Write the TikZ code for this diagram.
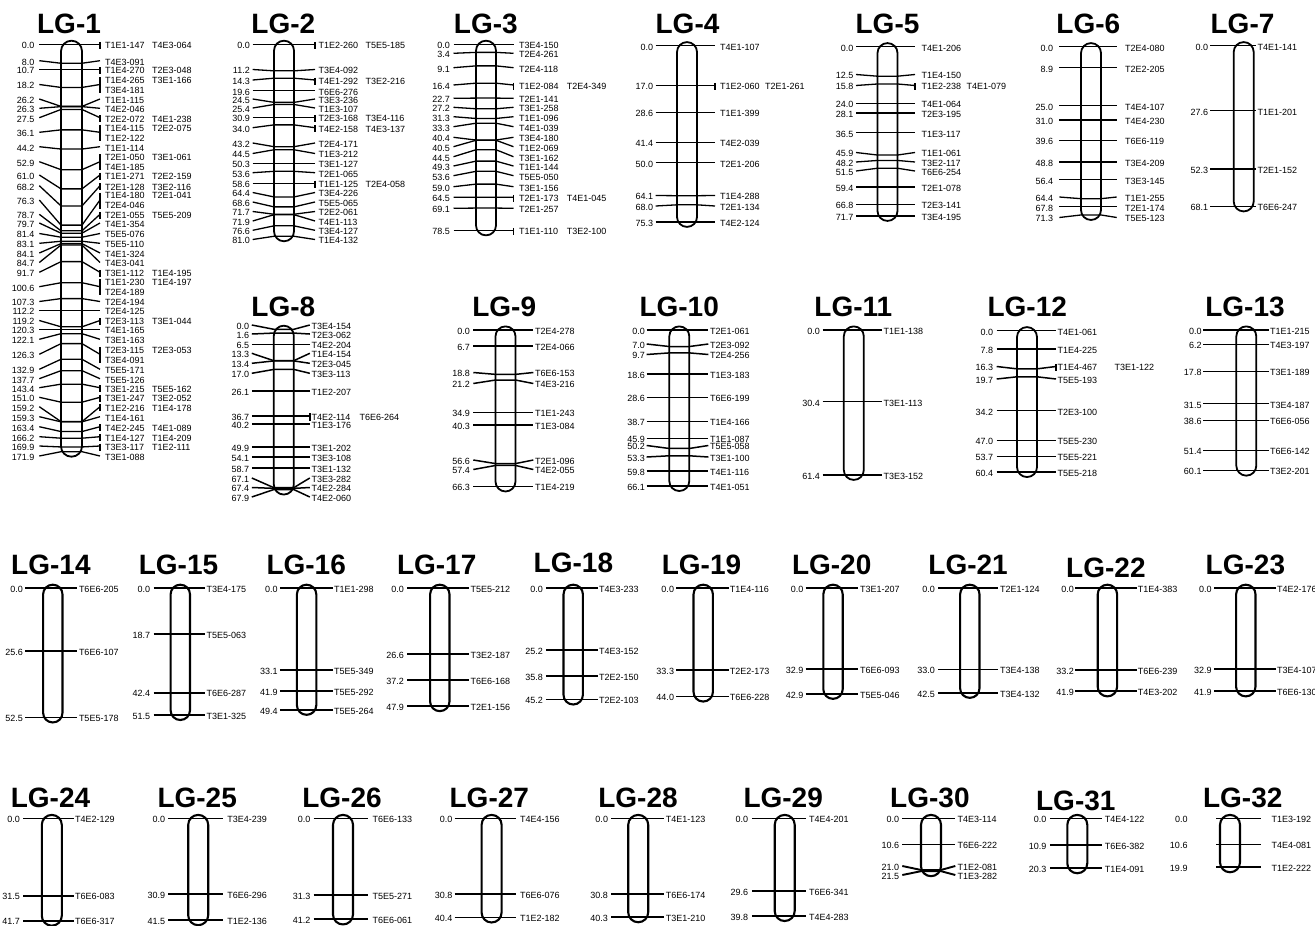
\documentclass[tikz,border=0pt]{standalone}
\usepackage{fontspec}
\setmainfont{Liberation Sans}
\usetikzlibrary{calc}

\newcount\mkno
\def\lgw{10}
% label offsets from the chromosome axis: number, left line, right line, text, 2nd column
\newcommand{\lglab}[5]{\def\lgn{#1}\def\lgl{#2}\def\lgr{#3}\def\lgt{#4}\def\lgc{#5}}
% id, title x, title y, axis x, y of 0 cM, px per cM, last cM
\newcommand{\lgchrom}[7]{%
  \def\lgx{#4}\def\lgy{#5}\def\lgs{#6}%
  \pgfmathsetmacro\lgrc{\lgw-0.05}%
  \node[lgtitle] (lg#1) at (#2,#3) {LG-#1};%
  \draw[chrom, rounded corners=\lgrc pt] (#4-\lgw,#5-3.6) rectangle (#4+\lgw,#5+#7*#6+5);%
}
% one locus: connector and position label
\newcommand{\mkpre}[2]{%
  \global\advance\mkno by 1
  \pgfmathsetmacro\mky{\lgy+#2*\lgs}%
  \def\tmp{#1}%
  \ifx\tmp\empty\let\mly\mky\else\def\mly{#1}\fi
  \coordinate (a\the\mkno) at (\lgx+\lgl,\mly);
  \coordinate (b\the\mkno) at (\lgx-\lgw,\mky);
  \coordinate (c\the\mkno) at (\lgx+\lgw,\mky);
  \coordinate (d\the\mkno) at (\lgx+\lgr,\mly);
  \draw[mline] (a\the\mkno) -- (b\the\mkno) -- (c\the\mkno) -- (d\the\mkno);
  \node[cmlab] (n\the\mkno) at (\lgx+\lgn,\mly+4.3) {#2};
}
% single marker
\newcommand{\mk}[3][]{\mkpre{#1}{#2}%
  \node[mklab] (m\the\mkno) at (\lgx+\lgt,\mly+4.3) {#3};}
% two markers, one row
\newcommand{\mkb}[4][]{\mkpre{#1}{#2}%
  \coordinate (e\the\mkno) at (\lgx+\lgr,\mly-2.5);
  \coordinate (f\the\mkno) at (\lgx+\lgr,\mly+4.6);
  \draw[mline] (e\the\mkno) -- (f\the\mkno);
  \node[mklab] (m\the\mkno) at (\lgx+\lgt,\mly+4.3) {#3};
  \node[mklab] (p\the\mkno) at (\lgx+\lgt+\lgc,\mly+4.3) {#4};}
% three markers, two rows
\newcommand{\mkc}[5][]{\mkpre{#1}{#2}%
  \coordinate (e\the\mkno) at (\lgx+\lgr,\mly-7.5);
  \coordinate (f\the\mkno) at (\lgx+\lgr,\mly+8.5);
  \draw[mline] (e\the\mkno) -- (f\the\mkno);
  \node[mklab] (m\the\mkno) at (\lgx+\lgt,\mly-1.2) {#3};
  \node[mklab] (p\the\mkno) at (\lgx+\lgt+\lgc,\mly-1.2) {#4};
  \node[mklab] (q\the\mkno) at (\lgx+\lgt,\mly+8.8) {#5};}

\begin{document}
\begin{tikzpicture}[x=1pt, y=-1pt,
    lgtitle/.style={font=\fontsize{28}{30}\selectfont\bfseries, inner sep=0pt},
    cmlab/.style={anchor=base east, inner sep=0pt, font=\fontsize{9}{10}\selectfont},
    mklab/.style={anchor=base west, inner sep=0pt, font=\fontsize{9}{10}\selectfont},
    mline/.style={line width=1.3pt},
    chrom/.style={line width=1.8pt, fill=white}
]
\fill[white] (0,0) rectangle (1315,926);
\useasboundingbox (0,0) rectangle (1315,926);

% ---- row 1
\def\lgw{10.5}
\lglab{-36.8}{-32.2}{28.5}{33.5}{47}
\lgchrom{1}{69}{24}{71.5}{44.3}{2.37}{171.9}
\mkb{0.0}{T1E1-147}{T4E3-064}
\mk[60.7]{8.0}{T4E3-091}
\mkb{10.7}{T1E4-270}{T2E3-048}
\mkc[84.5]{18.2}{T1E4-265}{T3E1-166}{T3E4-181}
\mk[99]{26.2}{T1E1-115}
\mk[108.3]{26.3}{T4E2-046}
\mkb[117.7]{27.5}{T2E2-072}{T4E1-238}
\mkc[132.3]{36.1}{T1E4-115}{T2E2-075}{T1E2-122}
\mk[146.7]{44.2}{T1E1-114}
\mkc[161.7]{52.9}{T2E1-050}{T3E1-061}{T4E1-185}
\mkb[175]{61.0}{T1E1-271}{T2E2-159}
\mkb[185.7]{68.2}{T2E1-128}{T3E2-116}
\mkc[200]{76.3}{T1E4-180}{T2E1-041}{T2E4-046}
\mkb[214.3]{78.7}{T2E1-055}{T5E5-209}
\mk[223]{79.7}{T4E1-354}
\mk[233.5]{81.4}{T5E5-076}
\mk[243.3]{83.1}{T5E5-110}
\mk[253]{84.1}{T4E1-324}
\mk[262.5]{84.7}{T4E3-041}
\mkb[272.3]{91.7}{T3E1-112}{T1E4-195}
\mkc[286.7]{100.6}{T1E1-230}{T1E4-197}{T2E4-189}
\mk[301.5]{107.3}{T2E4-194}
\mk{112.2}{T2E4-125}
\mkb[320.5]{119.2}{T2E3-113}{T3E1-044}
\mk{120.3}{T4E1-165}
\mk[339.3]{122.1}{T3E1-163}
\mkc[354.3]{126.3}{T2E3-115}{T2E3-053}{T3E4-091}
\mk[369.3]{132.9}{T5E5-171}
\mk[378.7]{137.7}{T5E5-126}
\mkb[387.7]{143.4}{T3E1-215}{T5E5-162}
\mkb[397.3]{151.0}{T3E1-247}{T3E2-052}
\mkb[406.7]{159.2}{T1E2-216}{T1E4-178}
\mk[416.7]{159.3}{T1E4-161}
\mkb[426.7]{163.4}{T4E2-245}{T4E1-089}
\mkb[436.7]{166.2}{T1E4-127}{T1E4-209}
\mkb[446]{169.9}{T3E3-117}{T1E2-111}
\mk[456]{171.9}{T3E1-088}

\def\lgw{10}
\lglab{-34}{-31.3}{31}{34.3}{47}
\lgchrom{2}{283.3}{24}{284}{44.3}{2.37}{81.0}
\mkb{0.0}{T1E2-260}{T5E5-185}
\mk[69.5]{11.2}{T3E4-092}
\mkb[80]{14.3}{T4E1-292}{T3E2-216}
\mk{19.6}{T6E6-276}
\mk[99]{24.5}{T3E3-236}
\mk[108]{25.4}{T1E3-107}
\mkb{30.9}{T2E3-168}{T3E4-116}
\mkb[127.7]{34.0}{T4E2-158}{T4E3-137}
\mk[143]{43.2}{T2E4-171}
\mk[153.5]{44.5}{T1E3-212}
\mk{50.3}{T3E1-127}
\mk[172.7]{53.6}{T2E1-065}
\mkb{58.6}{T1E1-125}{T2E4-058}
\mk[192.5]{64.4}{T3E4-226}
\mk[202]{68.6}{T5E5-065}
\mk[211.5]{71.7}{T2E2-061}
\mk[221]{71.9}{T4E1-113}
\mk[230.3]{76.6}{T3E4-127}
\mk[239.5]{81.0}{T1E4-132}

\lglab{-36}{-32.5}{27.5}{33}{47.7}
\lgchrom{3}{485.8}{24}{486}{44.3}{2.37}{78.5}
\mk{0.0}{T3E4-150}
\mk[53.3]{3.4}{T2E4-261}
\mk[67.7]{9.1}{T2E4-118}
\mkb[85]{16.4}{T1E2-084}{T2E4-349}
\mk[98.3]{22.7}{T2E1-141}
\mk[107.3]{27.2}{T3E1-258}
\mk[116.7]{31.3}{T1E1-096}
\mk[126.7]{33.3}{T4E1-039}
\mk[137.3]{40.4}{T3E4-180}
\mk[146.7]{40.5}{T1E2-069}
\mk[156.7]{44.5}{T3E1-162}
\mk[166]{49.3}{T1E1-144}
\mk[175.7]{53.6}{T5E5-050}
\mk[186.7]{59.0}{T3E1-156}
\mkb[197.3]{64.5}{T2E1-173}{T4E1-045}
\mk[208.3]{69.1}{T2E1-257}
\mkb{78.5}{T1E1-110}{T3E2-100}

\lglab{-33.7}{-31.3}{28}{33}{45}
\lgchrom{4}{687.5}{24}{687}{45.7}{2.34}{75.3}
\mk{0.0}{T4E1-107}
\mkb{17.0}{T1E2-060}{T2E1-261}
\mk{28.6}{T1E1-399}
\mk{41.4}{T4E2-039}
\mk{50.0}{T2E1-206}
\mk[195.5]{64.1}{T1E4-288}
\mk[206]{68.0}{T2E1-134}
\mk{75.3}{T4E2-124}

\lglab{-34}{-31.5}{27.5}{34}{45}
\lgchrom{5}{887.5}{24}{887.5}{46.7}{2.36}{71.7}
\mk{0.0}{T4E1-206}
\mk[74.5]{12.5}{T1E4-150}
\mkb[85.5]{15.8}{T1E2-238}{T4E1-079}
\mk{24.0}{T4E1-064}
\mk{28.1}{T2E3-195}
\mk{36.5}{T1E3-117}
\mk[152.5]{45.9}{T1E1-061}
\mk[162]{48.2}{T3E2-117}
\mk[171]{51.5}{T6E6-254}
\mk{59.4}{T2E1-078}
\mk{66.8}{T2E3-141}
\mk{71.7}{T3E4-195}

\lglab{-37.7}{-31.7}{25.7}{34}{45}
\lgchrom{6}{1088.3}{24}{1091}{46.7}{2.36}{71.3}
\mk{0.0}{T2E4-080}
\mk{8.9}{T2E2-205}
\mk{25.0}{T4E4-107}
\mk{31.0}{T4E4-230}
\mk{39.6}{T6E6-119}
\mk{48.8}{T3E4-209}
\mk{56.4}{T3E3-145}
\mk[197]{64.4}{T1E1-255}
\mk{67.8}{T2E1-174}
\mk[217.5]{71.3}{T5E5-123}

\lglab{-35.3}{-33.7}{12.7}{13.7}{45}
\lgchrom{7}{1242.5}{24}{1243.7}{45.7}{2.36}{68.1}
\mk{0.0}{T4E1-141}
\mk{27.6}{T1E1-201}
\mk{52.3}{T2E1-152}
\mk{68.1}{T6E6-247}

% ---- row 2
\begin{scope}[mline/.style={line width=1.5pt}]
\lglab{-34.5}{-32}{26}{27.5}{48}
\lgchrom{8}{283.3}{306.7}{283.8}{329.3}{2.36}{67.9}
\mk[325]{0.0}{T3E4-154}
\mk[334]{1.6}{T2E3-062}
\mk{6.5}{T4E2-204}
\mk[353.3]{13.3}{T1E4-154}
\mk[363.3]{13.4}{T2E3-045}
\mk[373.3]{17.0}{T3E3-113}
\mk{26.1}{T1E2-207}
\mkb{36.7}{T4E2-114}{T6E6-264}
\mk{40.2}{T1E3-176}
\mk{49.9}{T3E1-202}
\mk{54.1}{T3E3-108}
\mk{58.7}{T3E1-132}
\mk[478]{67.1}{T3E3-282}
\mk[487.5]{67.4}{T4E2-284}
\mk[497]{67.9}{T4E2-060}

\lglab{-35.5}{-32.2}{27.8}{29.5}{47}
\lgchrom{9}{504.2}{306.7}{505.5}{330}{2.36}{66.3}
\mk{0.0}{T2E4-278}
\mk{6.7}{T2E4-066}
\mk[372.5]{18.8}{T6E6-153}
\mk[383.5]{21.2}{T4E3-216}
\mk{34.9}{T1E1-243}
\mk{40.3}{T1E3-084}
\mk[460]{56.6}{T2E1-096}
\mk[469.5]{57.4}{T4E2-055}
\mk{66.3}{T1E4-219}

\lglab{-34.3}{-32.6}{29}{30.7}{47}
\lgchrom{10}{679.2}{306.7}{679.3}{330}{2.36}{66.1}
\mk{0.0}{T2E1-061}
\mk[344]{7.0}{T2E3-092}
\mk[354.5]{9.7}{T2E4-256}
\mk{18.6}{T1E3-183}
\mk{28.6}{T6E6-199}
\mk{38.7}{T1E4-166}
\mk{45.9}{T1E1-087}
\mk[445.5]{50.2}{T5E5-058}
\mk[457]{53.3}{T3E1-100}
\mk{59.8}{T4E1-116}
\mk{66.1}{T4E1-051}

\lglab{-33.8}{-31.1}{27.9}{29.5}{47}
\lgchrom{11}{853.3}{306.7}{853.8}{330}{2.36}{61.4}
\mk{0.0}{T1E1-138}
\mk{30.4}{T3E1-113}
\mk{61.4}{T3E3-152}

\lglab{-33.7}{-30.3}{29}{30.3}{57}
\lgchrom{12}{1027.2}{306.7}{1027}{330.7}{2.34}{60.4}
\mk{0.0}{T4E1-061}
\mk{7.8}{T1E4-225}
\mkb[366.5]{16.3}{T1E4-467}{T3E1-122}
\mk[379]{19.7}{T5E5-193}
\mk{34.2}{T2E3-100}
\mk{47.0}{T5E5-230}
\mk{53.7}{T5E5-221}
\mk{60.4}{T5E5-218}

\lglab{-44.6}{-43}{23}{23.7}{47}
\lgchrom{13}{1245}{306.7}{1246.3}{330}{2.34}{60.1}
\mk{0.0}{T1E1-215}
\mk{6.2}{T4E3-197}
\mk{17.8}{T3E1-189}
\mk{31.5}{T3E4-187}
\mk{38.6}{T6E6-056}
\mk{51.4}{T6E6-142}
\mk{60.1}{T3E2-201}
\end{scope}

% ---- rows 3 and 4
\begin{scope}[mline/.style={line width=1.9pt}, chrom/.append style={line width=2.1pt}]
\def\lgw{9.7}
\lglab{-29.7}{-27.5}{24.2}{26}{47}
\lgchrom{14}{50.9}{565}{52.8}{588.3}{2.46}{52.5}
\mk{0.0}{T6E6-205}
\mk{25.6}{T6E6-107}
\mk{52.5}{T5E5-178}

\lglab{-30}{-26.7}{25}{26}{47}
\lgchrom{15}{178.5}{565}{180.3}{588.3}{2.46}{51.5}
\mk{0.0}{T3E4-175}
\mk{18.7}{T5E5-063}
\mk{42.4}{T6E6-287}
\mk{51.5}{T3E1-325}

\lglab{-28.8}{-26.7}{25.9}{27.2}{47}
\lgchrom{16}{306.2}{565}{306.6}{588.3}{2.46}{49.4}
\mk{0.0}{T1E1-298}
\mk{33.1}{T5E5-349}
\mk{41.9}{T5E5-292}
\mk{49.4}{T5E5-264}

\lglab{-35.8}{-32.4}{29.5}{30.7}{47}
\lgchrom{17}{436.7}{565}{439.8}{588.3}{2.46}{47.9}
\mk{0.0}{T5E5-212}
\mk{26.6}{T3E2-187}
\mk{37.2}{T6E6-168}
\mk{47.9}{T2E1-156}

\lglab{-30.2}{-27.3}{24.4}{25.7}{47}
\lgchrom{18}{573.4}{563.3}{573.2}{588.3}{2.46}{45.2}
\mk{0.0}{T4E3-233}
\mk{25.2}{T4E3-152}
\mk{35.8}{T2E2-150}
\mk{45.2}{T2E2-103}

\lglab{-29}{-26.9}{25.3}{26.5}{47}
\lgchrom{19}{701.5}{565}{703.2}{588.3}{2.46}{44.0}
\mk{0.0}{T1E4-116}
\mk{33.3}{T2E2-173}
\mk{44.0}{T6E6-228}

\lglab{-29.5}{-27.4}{24.8}{27}{47}
\lgchrom{20}{831.7}{565}{833}{588.3}{2.46}{42.9}
\mk{0.0}{T3E1-207}
\mk{32.9}{T6E6-093}
\mk{42.9}{T5E5-046}

\lglab{-34.8}{-31.4}{28}{30.1}{47}
\lgchrom{21}{968.1}{565}{969.8}{588.3}{2.46}{42.5}
\mk{0.0}{T2E1-124}
\mk{33.0}{T3E4-138}
\mk{42.5}{T3E4-132}

\lglab{-33.4}{-32}{29.5}{30.3}{47}
\lgchrom{22}{1105.9}{568.3}{1107.4}{588.3}{2.46}{41.9}
\mk{0.0}{T1E4-383}
\mk{33.2}{T6E6-239}
\mk{41.9}{T4E3-202}

\lglab{-33.9}{-31.8}{29.7}{31}{47}
\lgchrom{23}{1245.4}{565}{1245.8}{588.3}{2.46}{41.9}
\mk{0.0}{T4E2-176}
\mk{32.9}{T3E4-107}
\mk{41.9}{T6E6-130}

\def\lgw{10}
\lglab{-31.6}{-28.7}{21.9}{23.1}{47}
\lgchrom{24}{50.5}{798}{51.8}{818.5}{2.45}{41.7}
\mk{0.0}{T4E2-129}
\mk{31.5}{T6E6-083}
\mk{41.7}{T6E6-317}

\lglab{-32.8}{-29.8}{24.8}{29}{47}
\lgchrom{25}{197.2}{798}{198.2}{818.5}{2.45}{41.5}
\mk{0.0}{T3E4-239}
\mk{30.9}{T6E6-296}
\mk{41.5}{T1E2-136}

\lglab{-32.4}{-29.4}{25.3}{29.5}{47}
\lgchrom{26}{342}{798}{343}{818.5}{2.45}{41.2}
\mk{0.0}{T6E6-133}
\mk{31.3}{T5E5-271}
\mk{41.2}{T6E6-061}

\lglab{-39}{-37}{24}{28.2}{47}
\lgchrom{27}{489.3}{798}{491.6}{818.5}{2.45}{40.4}
\mk{0.0}{T4E4-156}
\mk{30.8}{T6E6-076}
\mk{40.4}{T1E2-182}

\lglab{-30}{-27}{25.8}{27.5}{47}
\lgchrom{28}{638}{798}{638.2}{818.5}{2.45}{40.3}
\mk{0.0}{T4E1-123}
\mk{30.8}{T6E6-174}
\mk{40.3}{T3E1-210}

\lglab{-36.3}{-32.9}{21.3}{24.3}{47}
\lgchrom{29}{783.2}{798}{784.7}{818.5}{2.45}{39.8}
\mk{0.0}{T4E4-201}
\mk{29.6}{T6E6-341}
\mk{39.8}{T4E4-283}

\lglab{-31.6}{-28.7}{24.3}{26.5}{47}
\lgchrom{30}{929.9}{798}{931}{818.5}{2.45}{21.5}
\mk{0.0}{T4E3-114}
\mk{10.6}{T6E6-222}
\mk[866]{21.0}{T1E2-081}
\mk[875]{21.5}{T1E3-282}

\lglab{-30.8}{-27.4}{24.4}{27.3}{47}
\lgchrom{31}{1075.8}{801}{1077.3}{818.5}{2.45}{20.3}
\mk{0.0}{T4E4-122}
\mk{10.9}{T6E6-382}
\mk{20.3}{T1E4-091}

\lglab{-42.3}{-13.8}{30.7}{41.3}{47}
\lgchrom{32}{1242.7}{798}{1230}{818.5}{2.45}{19.9}
\mk{0.0}{T1E3-192}
\mk{10.6}{T4E4-081}
\mk{19.9}{T1E2-222}
\end{scope}
\end{tikzpicture}
\end{document}
